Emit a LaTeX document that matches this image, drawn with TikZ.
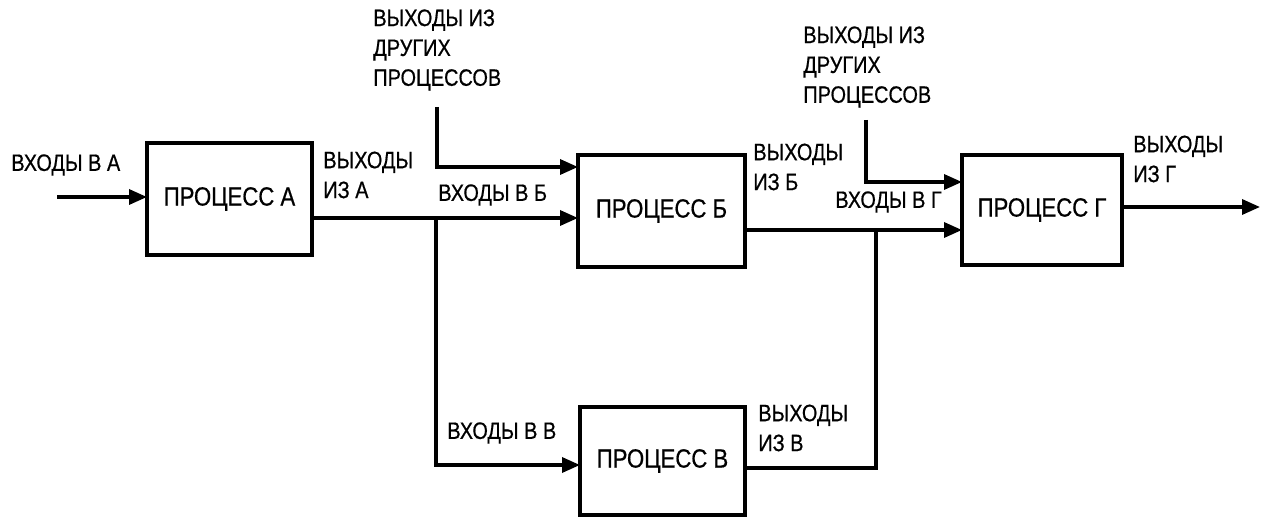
\documentclass[tikz,border=0pt]{standalone}
\usepackage{fontspec}
\setmainfont{Liberation Sans}[FakeStretch=0.84, FakeBold=0.6]
\usepackage{tikz}
\usetikzlibrary{arrows.meta, positioning, calc}

\begin{document}
\begin{tikzpicture}[x=0.2mm, y=-0.2mm, >={Triangle[length=3.6mm, width=3mm]},
  procbox/.style={draw, line width=1.9pt, inner sep=0pt, outer sep=0pt,
    font=\fontsize{15}{17}\selectfont},
  lbl/.style={anchor=west, align=left, inner sep=0pt,
    font=\fontsize{13.5}{17}\selectfont},
  flow/.style={line width=1.9pt}]
  % Frame
  \useasboundingbox (0,0) rectangle (1272,518);

  % Process boxes
  \node[procbox, minimum width=33mm, minimum height=22.4mm] (boxA) at (229.5,199) {ПРОЦЕСС А};
  \node[procbox, minimum width=33.4mm, minimum height=22.4mm] (boxB) at (661.5,211) {ПРОЦЕСС Б};
  \node[procbox, minimum width=33mm, minimum height=21.6mm] (boxV) at (662.5,461) {ПРОЦЕСС В};
  \node[procbox, minimum width=32mm, minimum height=22mm] (boxG) at (1042,210) {ПРОЦЕСС Г};

  % Free ends and junctions
  \coordinate (inA) at (57,197);
  \coordinate (othB) at (437,107);
  \coordinate (othG) at (866,120);
  \coordinate (jA) at (436,218);
  \coordinate (jG) at (876,230);
  \coordinate (outG) at (1260,207);

  % Connectors
  \draw[flow, ->] (inA) -- (inA -| boxA.west);
  \draw[flow, ->] (boxA.east |- jA) -- (boxB.west |- jA);
  \draw[flow, ->] (othB) |- ([yshift=8.8mm]boxB.west);
  \draw[flow, ->] (jA) |- ([yshift=-0.8mm]boxV.west);
  \draw[flow, ->] (boxB.east |- jG) -- (boxG.west |- jG);
  \draw[flow] ([yshift=-1.4mm]boxV.east) -| (jG);
  \draw[flow, ->] (othG) |- ([yshift=5.6mm]boxG.west);
  \draw[flow, ->] (boxG.east |- outG) -- (outG);

  % Labels
  \node[lbl] (lInA) at (11,165) {ВХОДЫ В А};
  \node[lbl] (lOutA) at (323,175) {ВЫХОДЫ\\ИЗ А};
  \node[lbl] (lOthB) at (373,50) {ВЫХОДЫ ИЗ\\ДРУГИХ\\ПРОЦЕССОВ};
  \node[lbl] (lInB) at (438,195) {ВХОДЫ В Б};
  \node[lbl] (lOutB) at (753,167) {ВЫХОДЫ\\ИЗ Б};
  \node[lbl] (lOthG) at (803,67) {ВЫХОДЫ ИЗ\\ДРУГИХ\\ПРОЦЕССОВ};
  \node[lbl] (lInG) at (835,202) {ВХОДЫ В Г};
  \node[lbl] (lOutG) at (1133,159) {ВЫХОДЫ\\ИЗ Г};
  \node[lbl] (lInV) at (447,433) {ВХОДЫ В В};
  \node[lbl] (lOutV) at (758,428) {ВЫХОДЫ\\ИЗ В};
\end{tikzpicture}
\end{document}
